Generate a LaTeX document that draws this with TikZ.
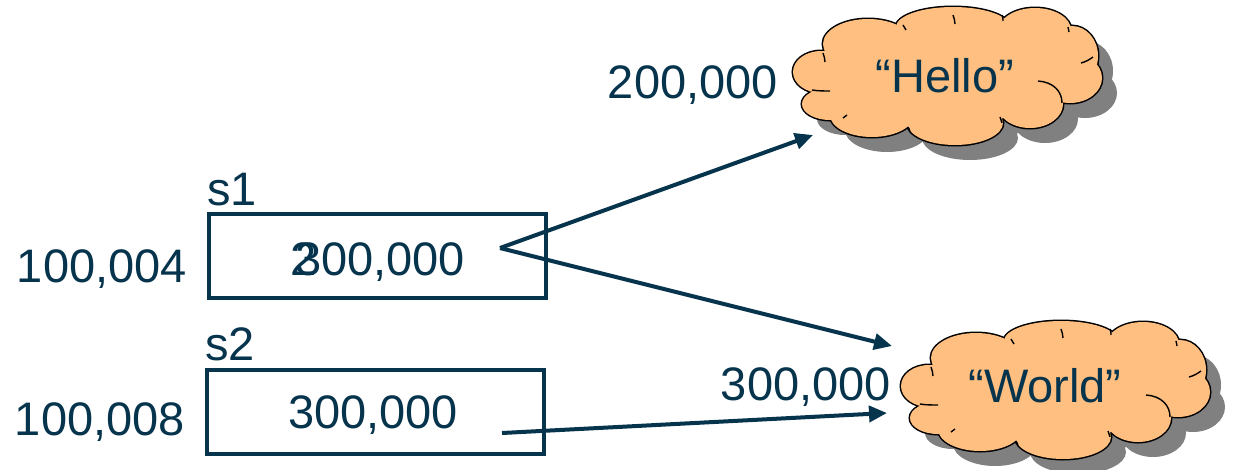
\documentclass[tikz,border=0pt]{standalone}
\usepackage{fontspec}
\setmainfont{Liberation Sans}
\usetikzlibrary{arrows.meta}
\definecolor{ink}{RGB}{6,52,77}
\definecolor{puff}{RGB}{255,191,128}
\definecolor{shadowgray}{RGB}{128,128,128}
% lobes of the cloud outline: centre x / centre y / x radius / y radius
\def\lobes{-127/-4/28/21, -118/28/28/16, -80/-32/45/25, 5/-49/57/20, 87/-46/36/22,
  124/-20/26/30, 122/2/32/25, 82/28/33/24, 7/47/48/22, -76/39/42/22}
\tikzset{
  puffcloud/.pic={
    % drop shadow
    \foreach \cx/\cy/\rx/\ry in \lobes
      \fill[shadowgray] (\cx+15,\cy+15) ellipse[x radius=\rx pt, y radius=\ry pt];
    \fill[shadowgray] (15,15) ellipse[x radius=115pt, y radius=48pt];
    % outer outline: stroke every lobe, then cover the inner halves
    \foreach \cx/\cy/\rx/\ry in \lobes
      \draw[black, line width=3pt] (\cx,\cy) ellipse[x radius=\rx pt, y radius=\ry pt];
    \foreach \cx/\cy/\rx/\ry in \lobes
      \fill[puff] (\cx,\cy) ellipse[x radius=\rx pt, y radius=\ry pt];
    \fill[puff] (0,0) ellipse[x radius=115pt, y radius=48pt];
    % short inner creases of the lobes
    \begin{scope}[black, line width=1.4pt]
      \draw (90,5) .. controls (105,6) and (114,15) .. (114,27);
      \draw (-136,14) .. controls (-130,15) and (-124,15) .. (-118,15);
      \draw (-125,-23) .. controls (-124,-20) and (-123,-17) .. (-123,-14);
      \draw (-45,-51) .. controls (-44,-49) and (-43,-48) .. (-42,-46);
      \draw (5,-61) .. controls (6,-58) and (7,-55) .. (7,-52);
      \draw (54,-61) .. controls (55,-59) and (55,-57) .. (55,-55);
      \draw (120,-49) .. controls (121,-47) and (121,-46) .. (121,-44);
      \draw (145,-19) .. controls (141,-16) and (137,-14) .. (133,-13);
      \draw (52,41) .. controls (53,43) and (53,45) .. (54,47);
      \draw (-40,51) .. controls (-39,53) and (-38,54) .. (-38,56);
      \draw (-105,42) .. controls (-104,41) and (-102,40) .. (-101,39);
    \end{scope}
  }
}
\begin{document}
\begin{tikzpicture}[x=1pt,y=-1pt,
  every node/.style={font=\fontsize{47}{52}\selectfont, text=ink, inner sep=0pt},
  cell/.style={draw=ink, line width=4pt, minimum width=337pt, minimum height=84pt},
  ptr/.style={draw=ink, line width=4pt, -{Triangle[length=18pt,width=16pt]}}]
\useasboundingbox (0,0) rectangle (1233,469);

% memory cells
\node[cell] (c1) at (377.5,256) {};
\node[cell] (c2) at (375,411.5) {};
\node[anchor=base west] (v1old) at (290,275) {2};
\node[anchor=base west] (v1) at (295,275) {300,000};
\node[anchor=base] (v2) at (373,428) {300,000};

% variable names and addresses
\node[anchor=base west] (n1) at (207,205) {s1};
\node[anchor=base west] (n2) at (205,360) {s2};
\node[anchor=base east] (a1) at (187,282) {100,004};
\node[anchor=base east] (a2) at (185,435) {100,008};

% string objects
\pic at (948,76) {puffcloud};
\node (hello) at (945,76) {“Hello”};
\pic at (1056,390) {puffcloud};
\node (world) at (1045,386) {“World”};
\node[anchor=base east] (ha) at (778,98) {200,000};
\node[anchor=base east] (wa) at (891,400) {300,000};

% references
\coordinate (p1) at (500,248);
\coordinate (p2) at (502,433);
\coordinate (t1) at (813,135);
\coordinate (t2) at (892,346);
\coordinate (t3) at (887,413);
\draw[ptr] (p1) -- (t1);
\draw[ptr] (p1) -- (t2);
\draw[ptr] (p2) -- (t3);
\end{tikzpicture}
\end{document}
